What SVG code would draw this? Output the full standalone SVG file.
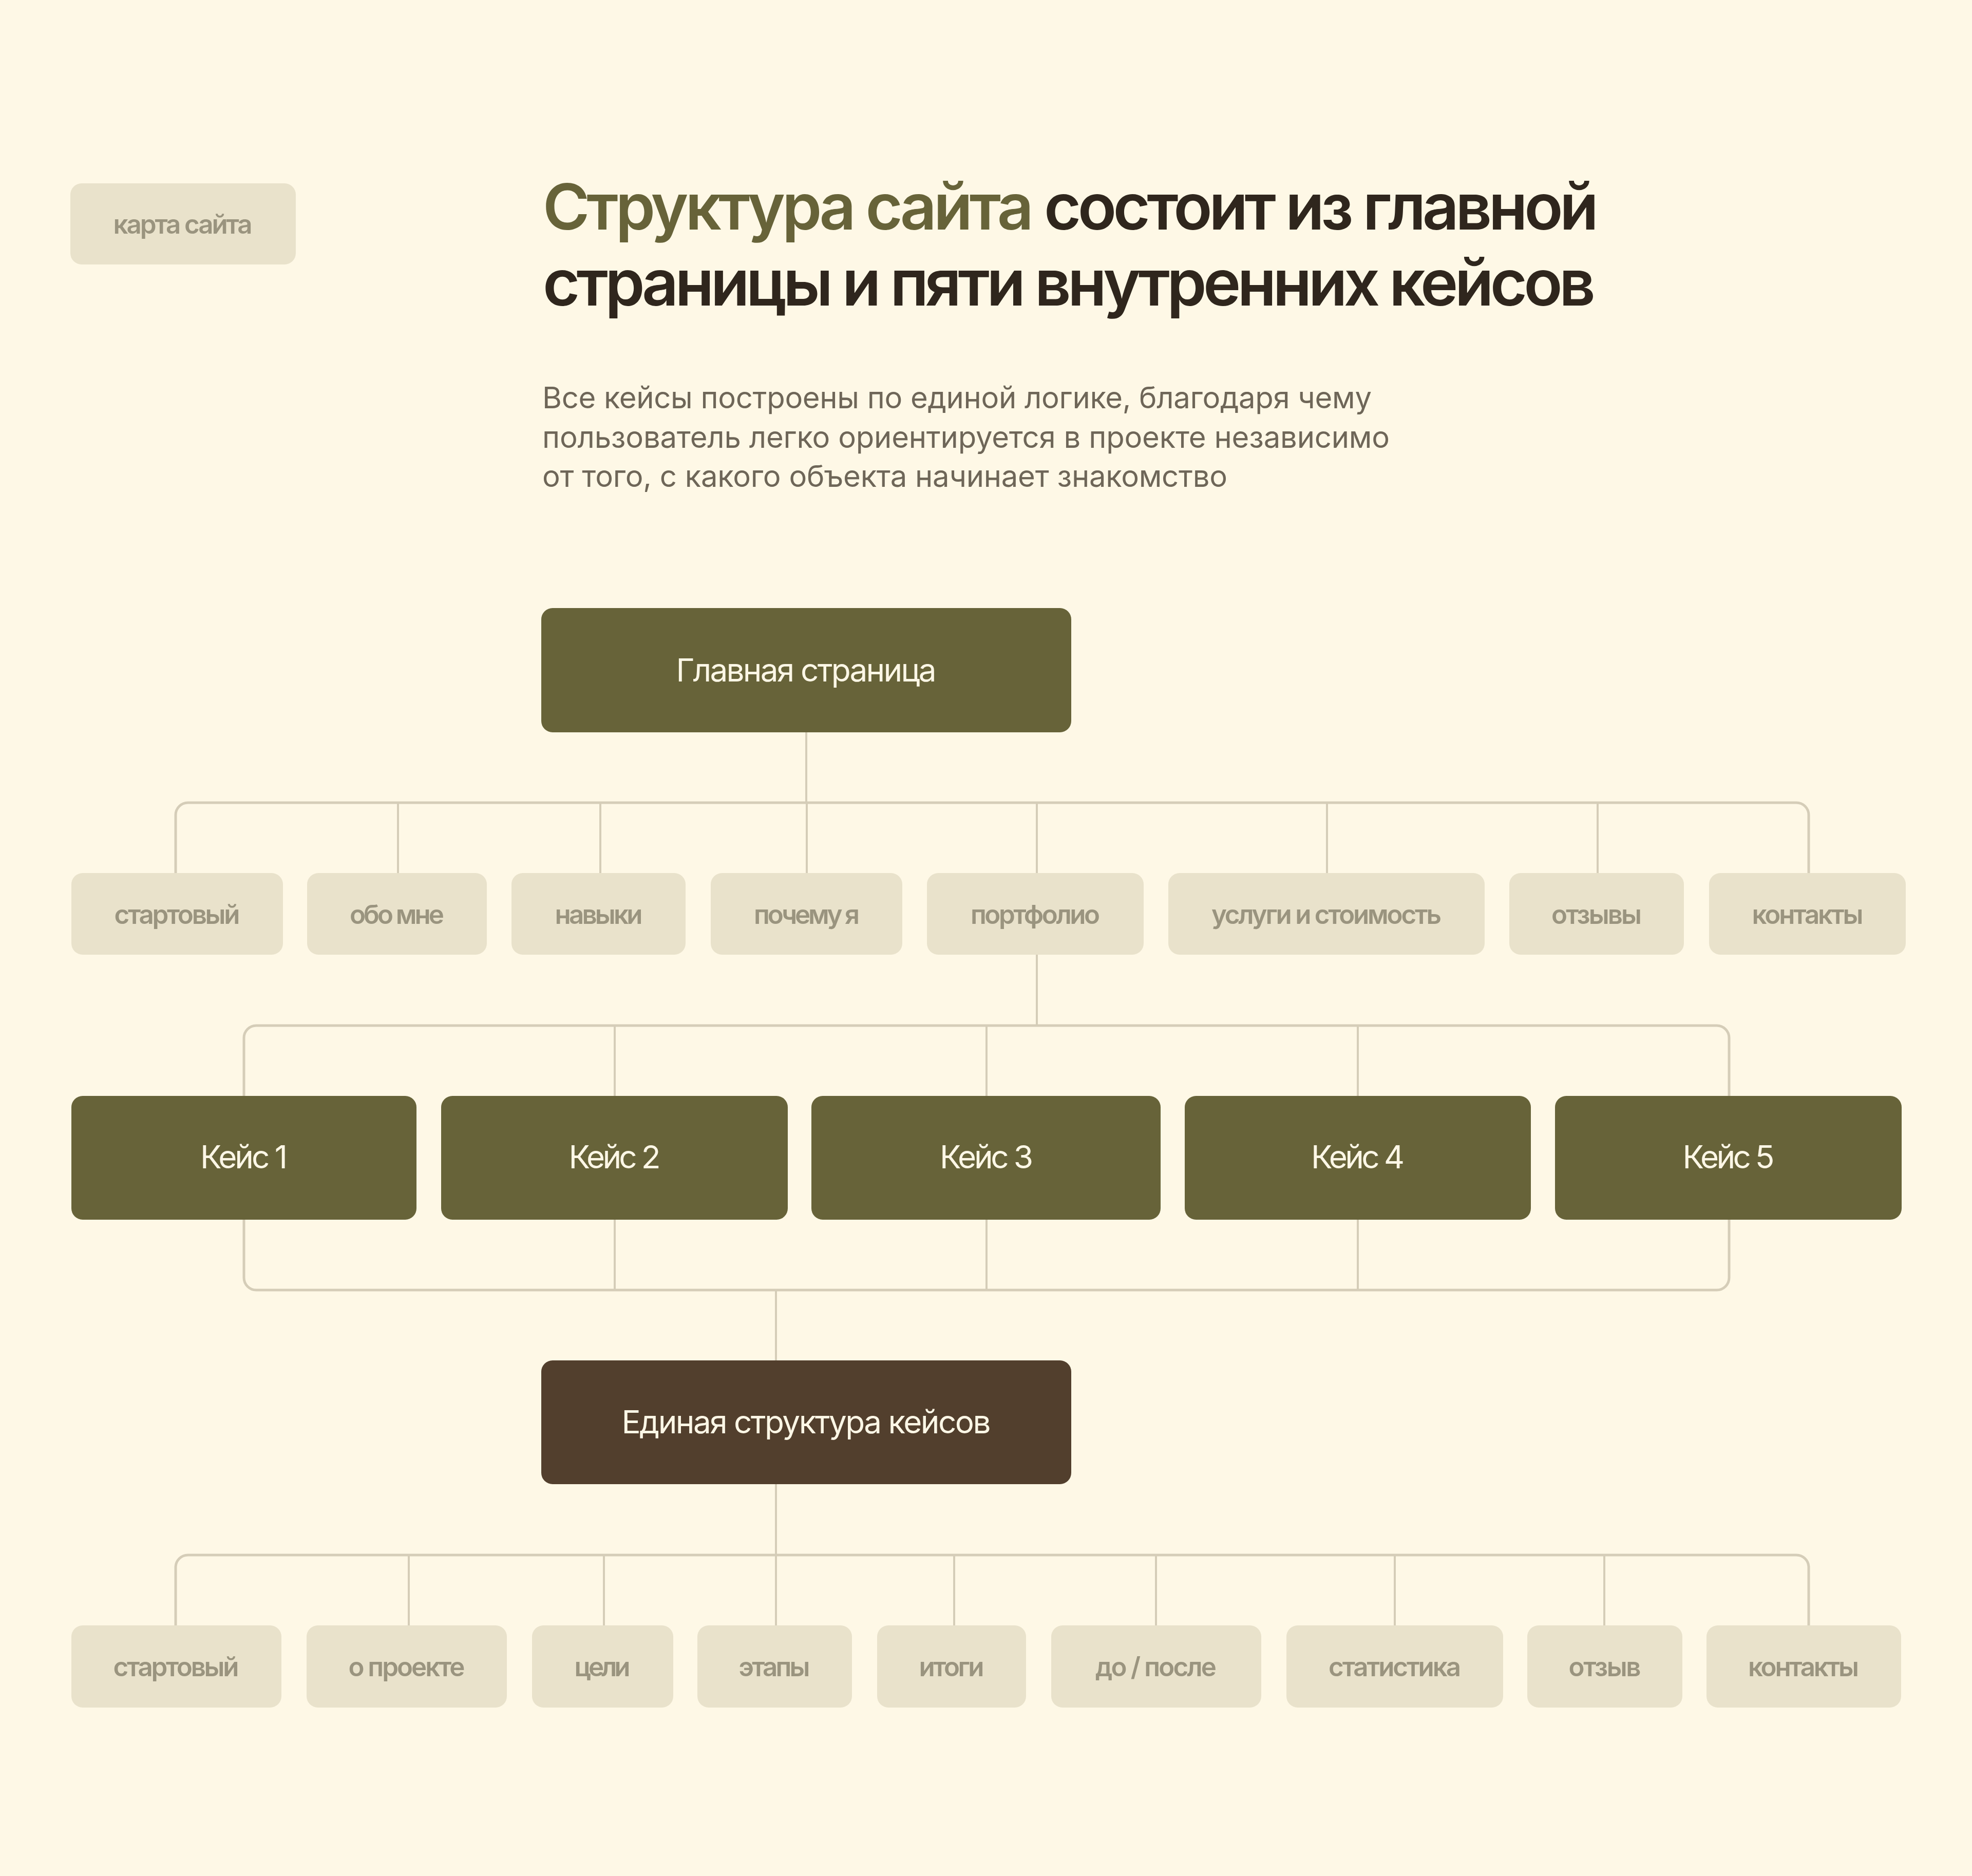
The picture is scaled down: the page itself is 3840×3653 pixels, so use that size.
<svg xmlns="http://www.w3.org/2000/svg" width="3840" height="3653" viewBox="0 0 3840 3653">
<style>
text{font-family:"Inter","Liberation Sans","Noto Sans",sans-serif}
.tag{fill:#e9e2cb}
.tagt{fill:#9a947f;font-size:51px;font-weight:600;text-anchor:middle}
.olive{fill:#676339}
.brown{fill:#523f2d}
.boxt{fill:#fdf7e6;font-size:62px;font-weight:400;text-anchor:middle}
.title{font-size:124px;font-weight:600}
.para{fill:#6e6658;font-size:58px;font-weight:400}
.bus{fill:none;stroke:#d5cdb8;stroke-width:5}
.drop{fill:none;stroke:#d5cdb8;stroke-width:4}
</style>
<rect width="3840" height="3653" fill="#fef8e6"/>

<g id="sitemap-tag">
<rect class="tag" x="137" y="357" width="439" height="158" rx="22"/>
<text class="tagt" x="356" y="455" textLength="271">карта сайта</text>
</g>

<g id="heading">
<text class="title" x="1057" y="447" fill="#676339" textLength="956">Структура сайта</text>
<text class="title" x="2033" y="447" fill="#2f261d" textLength="1080">состоит из главной</text>
<text class="title" x="1057" y="595" fill="#2f261d" textLength="2050">страницы и пяти внутренних кейсов</text>
</g>

<g id="description">
<text class="para" x="1056" y="795" textLength="1615">Все кейсы построены по единой логике, благодаря чему</text>
<text class="para" x="1056" y="872" textLength="1650">пользователь легко ориентируется в проекте независимо</text>
<text class="para" x="1056" y="948" textLength="1334">от того, с какого объекта начинает знакомство</text>
</g>

<g id="connectors">
<path class="drop" d="M1570 1426V1563"/>
<path class="bus" d="M342 1700V1587A24 24 0 0 1 366 1563H3498A24 24 0 0 1 3522 1587V1700"/>
<path class="drop" d="M775 1563V1700M1169 1563V1700M1571 1563V1700M2019 1563V1700M2584 1563V1700M3111 1563V1700"/>
<path class="drop" d="M2019 1859V1997"/>
<path class="bus" d="M475 2134V2021A24 24 0 0 1 499 1997H3343A24 24 0 0 1 3367 2021V2134"/>
<path class="drop" d="M1197 1997V2134M1921 1997V2134M2644 1997V2134"/>
<path class="bus" d="M475 2375V2488A24 24 0 0 0 499 2512H3343A24 24 0 0 0 3367 2488V2375"/>
<path class="drop" d="M1197 2375V2512M1921 2375V2512M2644 2375V2512"/>
<path class="drop" d="M1511 2512V2649"/>
<path class="drop" d="M1511 2890V3028"/>
<path class="bus" d="M342 3165V3052A24 24 0 0 1 366 3028H3498A24 24 0 0 1 3522 3052V3165"/>
<path class="drop" d="M796 3028V3165M1176 3028V3165M1511 3028V3165M1858 3028V3165M2251 3028V3165M2716 3028V3165M3124 3028V3165"/>
</g>

<g id="main-page">
<rect class="olive" x="1054" y="1184" width="1032" height="242" rx="22"/>
<text class="boxt" x="1570" y="1327" textLength="507">Главная страница</text>
</g>

<g id="p-start"><rect class="tag" x="139" y="1700" width="412" height="159" rx="22"/><text class="tagt" x="345" y="1799" textLength="245">стартовый</text></g>
<g id="p-about"><rect class="tag" x="598" y="1700" width="350" height="159" rx="22"/><text class="tagt" x="773" y="1799" textLength="184">обо мне</text></g>
<g id="p-skills"><rect class="tag" x="996" y="1700" width="339" height="159" rx="22"/><text class="tagt" x="1166" y="1799" textLength="171">навыки</text></g>
<g id="p-why"><rect class="tag" x="1384" y="1700" width="373" height="159" rx="22"/><text class="tagt" x="1571" y="1799" textLength="206">почему я</text></g>
<g id="p-portfolio"><rect class="tag" x="1805" y="1700" width="422" height="159" rx="22"/><text class="tagt" x="2016" y="1799" textLength="252">портфолио</text></g>
<g id="p-services"><rect class="tag" x="2275" y="1700" width="616" height="159" rx="22"/><text class="tagt" x="2583" y="1799" textLength="448">услуги и стоимость</text></g>
<g id="p-reviews"><rect class="tag" x="2939" y="1700" width="340" height="159" rx="22"/><text class="tagt" x="3109" y="1799" textLength="176">отзывы</text></g>
<g id="p-contacts"><rect class="tag" x="3328" y="1700" width="383" height="159" rx="22"/><text class="tagt" x="3520" y="1799" textLength="217">контакты</text></g>

<g id="case-1"><rect class="olive" x="139" y="2134" width="672" height="241" rx="22"/><text class="boxt" x="475" y="2275" textLength="170">Кейс 1</text></g>
<g id="case-2"><rect class="olive" x="859" y="2134" width="675" height="241" rx="22"/><text class="boxt" x="1197" y="2275" textLength="179">Кейс 2</text></g>
<g id="case-3"><rect class="olive" x="1580" y="2134" width="680" height="241" rx="22"/><text class="boxt" x="1921" y="2275" textLength="182">Кейс 3</text></g>
<g id="case-4"><rect class="olive" x="2307" y="2134" width="674" height="241" rx="22"/><text class="boxt" x="2644" y="2275" textLength="182">Кейс 4</text></g>
<g id="case-5"><rect class="olive" x="3028" y="2134" width="675" height="241" rx="22"/><text class="boxt" x="3366" y="2275" textLength="179">Кейс 5</text></g>

<g id="case-structure">
<rect class="brown" x="1054" y="2649" width="1032" height="241" rx="22"/>
<text class="boxt" x="1570" y="2791" textLength="719">Единая структура кейсов</text>
</g>

<g id="c-start"><rect class="tag" x="139" y="3165" width="409" height="160" rx="22"/><text class="tagt" x="343" y="3264" textLength="245">стартовый</text></g>
<g id="c-project"><rect class="tag" x="597" y="3165" width="390" height="160" rx="22"/><text class="tagt" x="792" y="3264" textLength="227">о проекте</text></g>
<g id="c-goals"><rect class="tag" x="1036" y="3165" width="275" height="160" rx="22"/><text class="tagt" x="1173" y="3264" textLength="109">цели</text></g>
<g id="c-stages"><rect class="tag" x="1358" y="3165" width="301" height="160" rx="22"/><text class="tagt" x="1508" y="3264" textLength="139">этапы</text></g>
<g id="c-results"><rect class="tag" x="1708" y="3165" width="290" height="160" rx="22"/><text class="tagt" x="1853" y="3264" textLength="127">итоги</text></g>
<g id="c-beforeafter"><rect class="tag" x="2047" y="3165" width="409" height="160" rx="22"/><text class="tagt" x="2251" y="3264" textLength="236">до / после</text></g>
<g id="c-stats"><rect class="tag" x="2505" y="3165" width="422" height="160" rx="22"/><text class="tagt" x="2716" y="3264" textLength="258">статистика</text></g>
<g id="c-review"><rect class="tag" x="2974" y="3165" width="302" height="160" rx="22"/><text class="tagt" x="3125" y="3264" textLength="141">отзыв</text></g>
<g id="c-contacts"><rect class="tag" x="3323" y="3165" width="379" height="160" rx="22"/><text class="tagt" x="3512" y="3264" textLength="216">контакты</text></g>
</svg>
